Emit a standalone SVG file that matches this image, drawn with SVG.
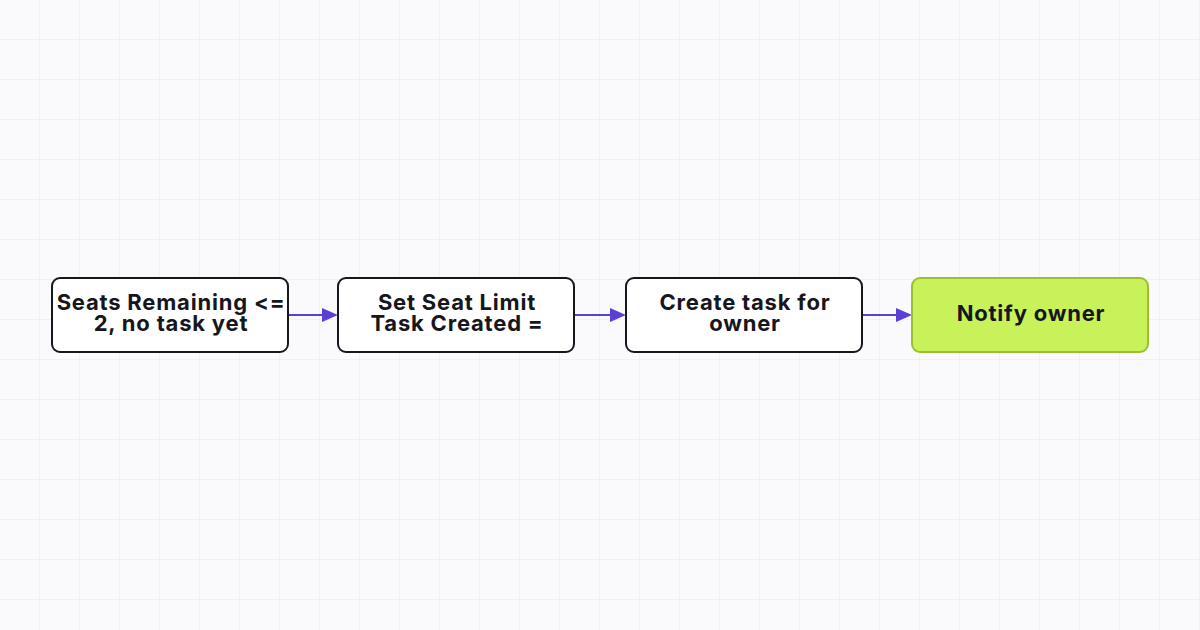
<svg xmlns="http://www.w3.org/2000/svg" width="1200" height="630" viewBox="0 0 1200 630">
<defs>
<pattern id="grid" width="40" height="40" patternUnits="userSpaceOnUse"><path d="M40 0V40M0 40H40" fill="none" stroke="#e9e6f7" stroke-width="1"/></pattern>
</defs>
<style>
.n{fill:#fff;stroke:#16161d;stroke-width:2}
.g{fill:#c8f15a;stroke:#9cbf32;stroke-width:2}
.t{font-family:Inter,"Liberation Sans",sans-serif;font-weight:700;font-size:22px;letter-spacing:0.8px;fill:#16161d;text-anchor:middle}
.c{stroke:#5b3fd6;stroke-width:2;fill:none}
.a{fill:#5b3fd6}
</style>
<rect width="1200" height="630" fill="#fafafc"/>
<rect width="1200" height="630" fill="url(#grid)"/>
<g id="connectors">
<line class="c" x1="288" y1="315" x2="326" y2="315"/><path class="a" d="M322 308L338 315L322 322Z"/>
<line class="c" x1="574" y1="315" x2="614" y2="315"/><path class="a" d="M610 308L626 315L610 322Z"/>
<line class="c" x1="862" y1="315" x2="900" y2="315"/><path class="a" d="M896 308L912 315L896 322Z"/>
</g>
<g id="n1"><rect class="n" x="52" y="278" width="236" height="74" rx="8"/><text class="t" x="171" y="310">Seats Remaining &lt;=</text><text class="t" x="171" y="331">2, no task yet</text></g>
<g id="n2"><rect class="n" x="338" y="278" width="236" height="74" rx="8"/><text class="t" x="457" y="310">Set Seat Limit</text><text class="t" x="457" y="331">Task Created =</text></g>
<g id="n3"><rect class="n" x="626" y="278" width="236" height="74" rx="8"/><text class="t" x="745" y="310">Create task for</text><text class="t" x="745" y="331">owner</text></g>
<g id="n4"><rect class="g" x="912" y="278" width="236" height="74" rx="8"/><text class="t" x="1031" y="321">Notify owner</text></g>
</svg>
